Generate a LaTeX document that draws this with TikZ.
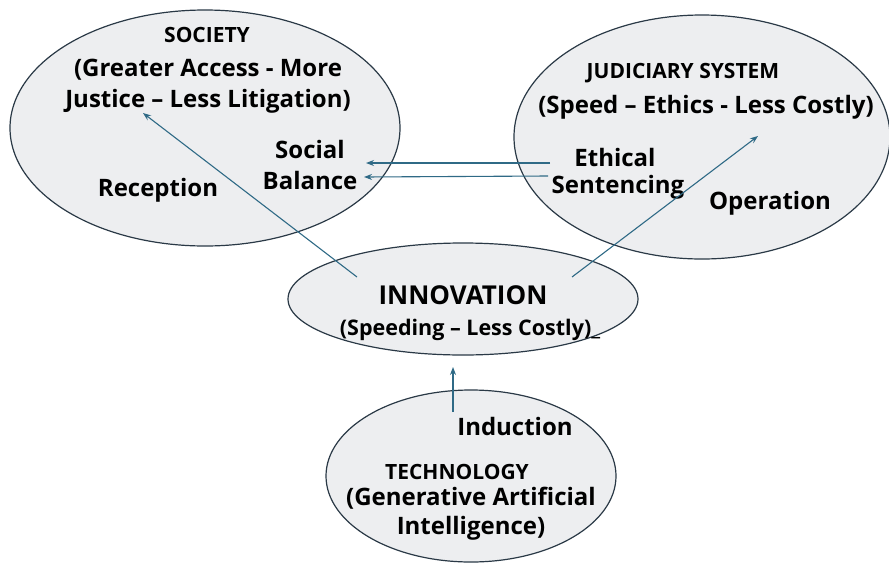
\documentclass[tikz,border=0pt]{standalone}
\usepackage{fontspec}
\setmainfont{Open Sans}
\usetikzlibrary{shapes.geometric,arrows.meta}
\definecolor{ovalfill}{HTML}{EDEEF0}
\definecolor{ovalline}{HTML}{2A3946}
\definecolor{linkcol}{HTML}{2F6A86}
\tikzset{
  oval/.style={ellipse, draw=ovalline, fill=ovalfill, line width=1.2pt, inner sep=0pt},
  label/.style={font=\bfseries\fontsize{24}{28}\selectfont, align=center, inner sep=0pt},
  title/.style={font=\bfseries\fontsize{21}{25}\selectfont, inner sep=0pt},
  link/.style={-{Stealth[length=8pt,width=6pt]}, draw=linkcol, line width=1.1pt}
}
\begin{document}
\begin{tikzpicture}[x=1pt,y=-1pt]
\useasboundingbox (0,0) rectangle (889,563);
% the four ovals
\node [oval, minimum width=390pt, minimum height=236pt] (society) at (205,128) {};
\node [oval, minimum width=376pt, minimum height=244pt] (judiciary) at (702,137) {};
\node [oval, minimum width=350pt, minimum height=112pt] (innovation) at (463,299) {};
\node [oval, minimum width=290pt, minimum height=172pt] (technology) at (471,476) {};
% society
\node [title] (soctitle) at (207,35) {SOCIETY};
\node [label] (socline1) at (208,70) {(Greater Access - More};
\node [label] (socline2) at (208,101) {Justice -- Less Litigation)};
\node [label] (reception) at (158,190) {Reception};
\node [label] (social) at (310,149) {Social};
\node [label] (balance) at (310,180) {Balance};
% judiciary system
\node [title] (judtitle) at (683,73) {JUDICIARY SYSTEM};
\node [label] (judline) at (706,107) {(Speed -- Ethics - Less Costly)};
\node [label] (ethical) at (615,157) {Ethical};
\node [label] (sentencing) at (618,187) {Sentencing};
\node [label] (operation) at (770,203) {Operation};
% innovation
\node [font=\bfseries\fontsize{26}{31}\selectfont, inner sep=0pt] (innotitle) at (463,295) {INNOVATION};
\node [label, font=\bfseries\fontsize{21.5}{25}\selectfont] (innoline) at (470,330) {(Speeding -- Less Costly)\_};
% technology
\node [label] (induction) at (515,426) {Induction};
\node [title] (techtitle) at (457,472) {TECHNOLOGY};
\node [label] (techline1) at (471,498) {(Generative Artificial};
\node [label] (techline2) at (471,528) {Intelligence)};
% connectors
\coordinate (recfoot) at (357,277);
\coordinate (rechead) at (143,113);
\coordinate (opfoot) at (572,277);
\coordinate (ophead) at (758,136);
\coordinate (indfoot) at (453,412);
\coordinate (indhead) at (453,367);
\coordinate (ethfootA) at (550,163);
\coordinate (ethheadA) at (366,163);
\coordinate (ethfootB) at (548,176);
\coordinate (ethheadB) at (364,177);
\draw [link] (recfoot) -- (rechead);
\draw [link] (opfoot) -- (ophead);
\draw [link] (indfoot) -- (indhead);
\draw [link] (ethfootA) -- (ethheadA);
\draw [link] (ethfootB) -- (ethheadB);
\end{tikzpicture}
\end{document}
